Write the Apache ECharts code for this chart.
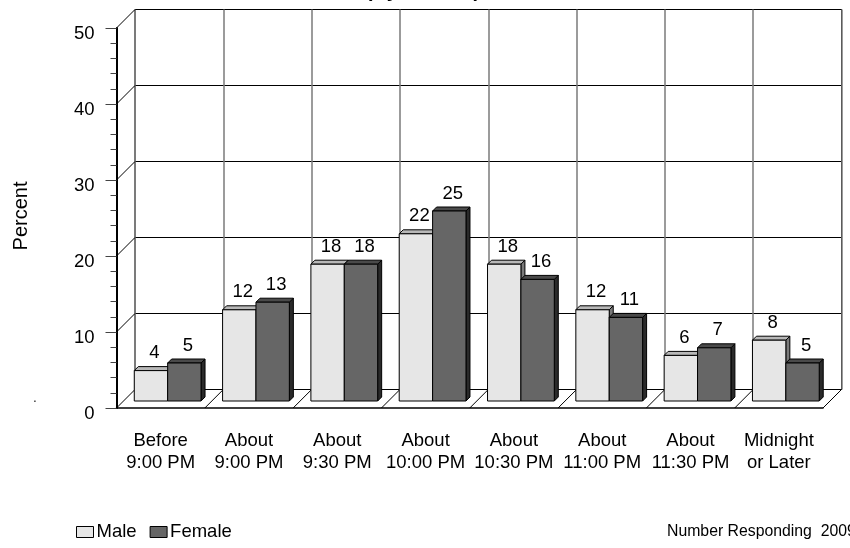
<!DOCTYPE html>
<html>
<head>
<meta charset="utf-8">
<script src="https://cdn.jsdelivr.net/npm/echarts@6/dist/echarts.min.js"></script>
<style>
  html, body { margin: 0; padding: 0; background: #fff; }
  #chart { width: 850px; height: 548px; }
</style>
</head>
<body>
<div id="chart"></div>
<script>
// Bedtime categories and percentages by gender
const categories = ['Before\n9:00 PM', 'About\n9:00 PM', 'About\n9:30 PM', 'About\n10:00 PM',
                    'About\n10:30 PM', 'About\n11:00 PM', 'About\n11:30 PM', 'Midnight\nor Later'];
const maleValues = [4, 12, 18, 22, 18, 12, 6, 8];
const femaleValues = [5, 13, 18, 25, 16, 11, 7, 5];
const yTicks = [0, 10, 20, 30, 40, 50];

const FONT = "'Liberation Sans', Arial, sans-serif";
const DEPTH = 18.5;      // depth of the box (back wall offset)
const BAR_SHIFT = 7;     // bars stand a little behind the front edge
const BAR_SIDE = 4;      // thickness of the bar's side / top faces

const front = { left: 116.5, right: 27, top: 28, bottom: 140 };
const back = { left: front.left + DEPTH, right: front.right - DEPTH,
               top: front.top - DEPTH, bottom: front.bottom + DEPTH };

const styles = [
  { front: '#e6e6e6', top: '#b8b8b8', side: '#7a7a7a' },
  { front: '#666666', top: '#4a4a4a', side: '#2a2a2a' }
];

function barRenderer(which) {
  return function (params, api) {
    const i = api.value(0);
    const v = api.value(1);
    const base = api.coord([i, 0]);
    const tip = api.coord([i, v]);
    const band = api.size([1, 0])[0];
    const w = band * 0.378;
    const cx = base[0] + BAR_SHIFT;
    const x0 = which === 0 ? cx - w : cx;
    const x1 = x0 + w;
    const yb = base[1] - BAR_SHIFT;
    const yt = tip[1] - BAR_SHIFT;
    const s = styles[which];
    const d = BAR_SIDE;
    const edge = { stroke: '#000', lineWidth: 1, lineJoin: 'miter' };
    return {
      type: 'group',
      children: [
        { type: 'polygon', shape: { points: [[x1, yt], [x1 + d, yt - d], [x1 + d, yb - d], [x1, yb]] },
          style: Object.assign({ fill: s.side }, edge) },
        { type: 'polygon', shape: { points: [[x0, yt], [x0 + d, yt - d], [x1 + d, yt - d], [x1, yt]] },
          style: Object.assign({ fill: s.top }, edge) },
        { type: 'rect', shape: { x: x0, y: yt, width: w, height: yb - yt },
          style: Object.assign({ fill: s.front }, edge) },
        { type: 'text', x: (x0 + x1) / 2 + 3.5, y: yt - 17.5,
          style: { text: String(v), font: '18.5px ' + FONT, fill: '#000',
                   align: 'center', verticalAlign: 'middle' } }
      ]
    };
  };
}

const chart = echarts.init(document.getElementById('chart'), null, { renderer: 'canvas' });

const option = {
  animation: false,
  backgroundColor: '#fff',
  textStyle: { fontFamily: FONT },
  grid: [
    Object.assign({ containLabel: false }, front),
    Object.assign({ containLabel: false, show: true, borderColor: '#000', borderWidth: 1,
                    backgroundColor: 'transparent', z: 0 }, back)
  ],
  legend: {
    data: ['Male', 'Female'],
    left: 76, top: 522.5,
    padding: 0,
    icon: 'rect',
    itemWidth: 17, itemHeight: 11, itemGap: 13,
    itemStyle: { borderColor: '#000', borderWidth: 1 },
    textStyle: { fontSize: 18.5, color: '#000', fontFamily: FONT, padding: [2, 0, 0, -2] }
  },
  xAxis: [
    {
      type: 'category', gridIndex: 0, data: categories, boundaryGap: true,
      axisLine: { lineStyle: { color: '#000', width: 1.5 } },
      axisTick: { alignWithLabel: true, length: 10, lineStyle: { color: '#555' } },
      axisLabel: { interval: 0, margin: 21.5, fontSize: 18.5, color: '#000', lineHeight: 22.5, fontFamily: FONT },
      splitLine: { show: false }
    },
    {
      type: 'category', gridIndex: 1, data: categories, boundaryGap: true,
      axisLine: { show: false }, axisTick: { show: false }, axisLabel: { show: false },
      splitLine: { show: true, interval: 0, lineStyle: { color: '#7a7a7a', width: 1.5 } }
    }
  ],
  yAxis: [
    {
      type: 'value', gridIndex: 0, min: 0, max: 50, interval: 10,
      name: 'Percent', nameLocation: 'middle', nameGap: 85,
      nameTextStyle: { fontSize: 20, color: '#000', fontFamily: FONT, padding: [0, 0, 0, 4] },
      axisLine: { show: true, lineStyle: { color: '#000', width: 2 } },
      axisTick: { show: true, length: 11, lineStyle: { color: '#444' } },
      minorTick: { show: true, splitNumber: 5, length: 6, lineStyle: { color: '#444' } },
      axisLabel: {
        margin: 22, color: '#000',
        formatter: '{v|{value}}',
        rich: { v: { fontSize: 18.5, fontFamily: FONT, color: '#000', padding: [11, 0, 0, 0] } }
      },
      splitLine: { show: false }
    },
    {
      type: 'value', gridIndex: 1, min: 0, max: 50, interval: 10,
      axisLine: { show: false }, axisTick: { show: false }, axisLabel: { show: false },
      splitLine: { show: true, lineStyle: { color: '#000', width: 1 } }
    }
  ],
  series: [
    { name: 'Male', type: 'custom', xAxisIndex: 0, yAxisIndex: 0, clip: false, z: 5,
      itemStyle: { color: styles[0].front },
      encode: { x: 0, y: 1 },
      data: maleValues.map((v, i) => [i, v]),
      renderItem: barRenderer(0) },
    { name: 'Female', type: 'custom', xAxisIndex: 0, yAxisIndex: 0, clip: false, z: 5,
      itemStyle: { color: styles[1].front },
      encode: { x: 0, y: 1 },
      data: femaleValues.map((v, i) => [i, v]),
      renderItem: barRenderer(1) }
  ]
};
chart.setOption(option);

// Depth lines of the side wall and floor, placed from the axis scales
const lineStyle = { stroke: '#000', lineWidth: 1 };
const graphics = [];
yTicks.forEach(function (t) {
  const p = chart.convertToPixel({ gridIndex: 0 }, [0, t]);
  const x = front.left;
  graphics.push({ type: 'line', z: 1, silent: true,
    shape: { x1: x, y1: p[1], x2: x + DEPTH, y2: p[1] - DEPTH }, style: lineStyle });
});
const c0 = chart.convertToPixel({ gridIndex: 0 }, [0, 0]);
const c1 = chart.convertToPixel({ gridIndex: 0 }, [1, 0]);
const band = c1[0] - c0[0];
for (let k = 1; k <= categories.length; k++) {
  const x = c0[0] - band / 2 + k * band;
  graphics.push({ type: 'line', z: 1, silent: true,
    shape: { x1: x, y1: c0[1], x2: x + DEPTH, y2: c0[1] - DEPTH }, style: lineStyle });
}
graphics.push({ type: 'text', z: 10, x: 423, y: -9,
  style: { text: '(By Gender)', font: 'bold 20px ' + FONT, fill: '#000', align: 'center', verticalAlign: 'middle' } });
graphics.push({ type: 'text', z: 10, x: 667, y: 532,
  style: { text: 'Number Responding  2009', font: '15.8px ' + FONT, fill: '#000', align: 'left', verticalAlign: 'middle' } });
graphics.push({ type: 'text', z: 10, x: 35, y: 399,
  style: { text: '.', font: '12px ' + FONT, fill: '#000', align: 'center', verticalAlign: 'middle' } });
chart.setOption({ graphic: graphics });
</script>
</body>
</html>
